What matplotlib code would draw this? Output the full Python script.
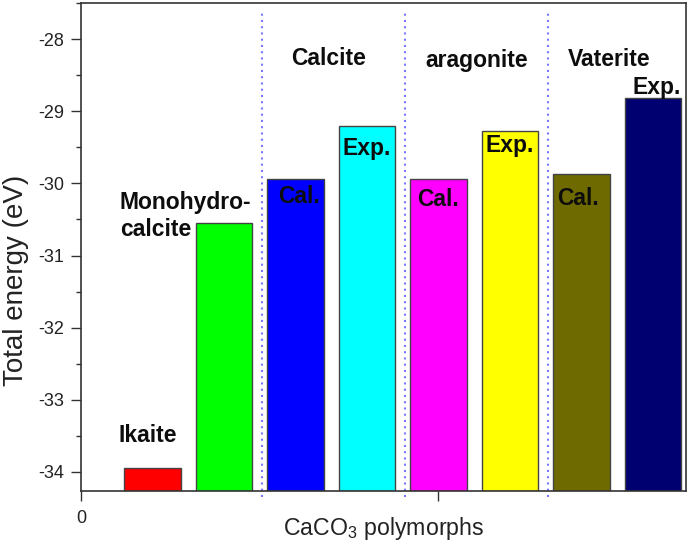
import numpy as np
import matplotlib
matplotlib.use('Agg')
import matplotlib.pyplot as plt

plt.rcParams['font.family'] = ['Liberation Sans', 'DejaVu Sans']
plt.rcParams['mathtext.fontset'] = 'custom'
plt.rcParams['mathtext.rm'] = 'Liberation Sans'
plt.rcParams['mathtext.it'] = 'Liberation Sans'
plt.rcParams['axes.unicode_minus'] = False

# data
pos = [1, 2, 3, 4, 5, 6, 7, 8]
energy = [-33.94, -30.55, -29.935, -29.21, -29.935, -29.27, -29.87, -28.82]
colors = ['#ff0000', '#00ff00', '#0000ff', '#00ffff', '#ff00ff', '#ffff00', '#6e6a00', '#000070']
separators = [2.53, 4.53, 6.53]
bottom = -34.26

fig = plt.figure(figsize=(6.92, 5.5), dpi=100)
ax = fig.add_axes([0.117, 0.1078, 0.874, 0.8867])

heights = np.array(energy) - bottom
ax.bar(pos, heights, bottom=bottom, width=0.79, color=colors,
       edgecolor='#444444', linewidth=1.0, zorder=2)

for s in separators:
    ax.axvline(s, ymin=-0.012, ymax=0.985, color='#7878ff', linestyle=(0, (1, 2.0)),
               linewidth=1.5, clip_on=False, zorder=1)

tf = dict(fontsize=16.5, fontweight='bold', color='#0d0d0d', zorder=3)
ax.text(0.93, -33.49, 'Ikaite', ha='center', va='center', **tf)
ax.text(0.545, -30.45, 'Monohydro-\ncalcite', ha='left', va='center', linespacing=1.25, **tf)
ax.text(3.47, -28.36, 'Calcite', ha='center', va='baseline', **tf)
ax.text(5.53, -28.38, 'aragonite', ha='center', va='baseline', **tf)
ax.text(7.39, -28.37, 'Vaterite', ha='center', va='baseline', **tf)
ax.text(3.05, -30.27, 'Cal.', ha='center', va='baseline', **tf)
ax.text(4.99, -30.32, 'Cal.', ha='center', va='baseline', **tf)
ax.text(6.95, -30.30, 'Cal.', ha='center', va='baseline', **tf)
ax.text(4.0, -29.60, 'Exp.', ha='center', va='baseline', **tf)
ax.text(6.0, -29.57, 'Exp.', ha='center', va='baseline', **tf)
ax.text(8.05, -28.76, 'Exp.', ha='center', va='baseline', **tf)

ax.set_xlim(0, 8.46)
ax.set_ylim(bottom, -27.5)
ax.set_xticks([0, 5])
ax.set_xticklabels(['0', ''])
ax.set_yticks([-34, -33, -32, -31, -30, -29, -28])
ax.set_yticks(np.arange(-34, -27.4, 0.5), minor=True)
ax.tick_params(axis='both', which='major', direction='out', length=7, width=1,
               color='#333333', labelsize=13, labelcolor='#222222')
ax.tick_params(axis='y', which='major', pad=5)
ax.tick_params(axis='x', which='major', pad=7)
ax.tick_params(axis='y', which='minor', direction='out', length=3.6, width=1, color='#333333')
for sp in ax.spines.values():
    sp.set_color('#333333')
    sp.set_linewidth(1.2)

ax.set_xlabel('CaCO$_3$ polymorphs', fontsize=16.7, color='#222222', va='center')
ax.xaxis.set_label_coords(0.5, -0.078)
ax.set_ylabel('Total energy (eV)', fontsize=20, color='#222222', va='center')
ax.yaxis.set_label_coords(-0.107, 0.432)

fig.savefig('out.png', dpi=100)
